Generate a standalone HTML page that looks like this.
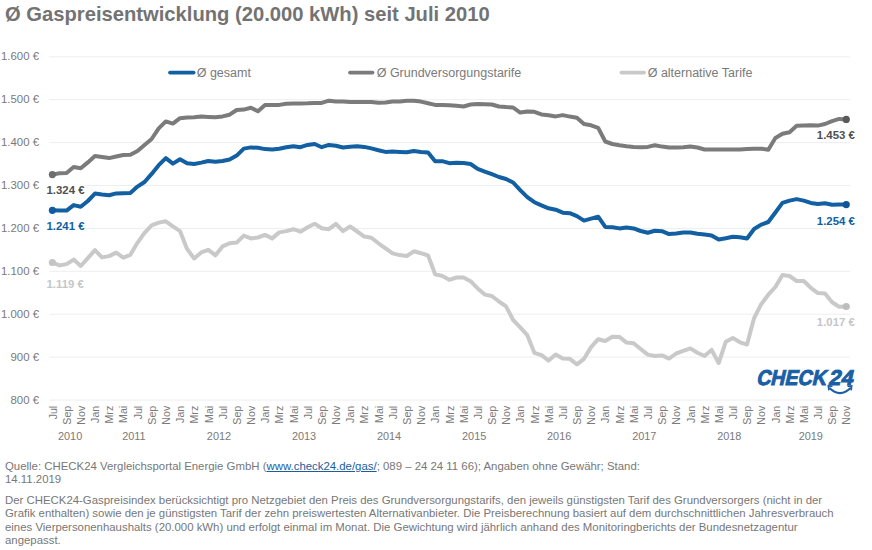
<!DOCTYPE html>
<html><head><meta charset="utf-8"><style>
html,body{margin:0;padding:0;background:#fff;width:872px;height:550px;overflow:hidden}
svg{position:absolute;left:0;top:0}
text{font-family:"Liberation Sans", sans-serif}
.foot{position:absolute;left:5px;font-family:"Liberation Sans", sans-serif;color:#777;font-size:11.4px;line-height:13px;white-space:nowrap}
.foot a{color:#1a5ea0;text-decoration:underline}
</style></head><body>
<svg width="872" height="550" viewBox="0 0 872 550">
<line x1="49.5" y1="56.80" x2="850.0" y2="56.80" stroke="#eeeeee" stroke-width="1"/>
<text x="39" y="60.40" text-anchor="end" font-size="11.4" fill="#7a7a7a">1.600 €</text>
<line x1="49.5" y1="99.70" x2="850.0" y2="99.70" stroke="#eeeeee" stroke-width="1"/>
<text x="39" y="103.30" text-anchor="end" font-size="11.4" fill="#7a7a7a">1.500 €</text>
<line x1="49.5" y1="142.60" x2="850.0" y2="142.60" stroke="#eeeeee" stroke-width="1"/>
<text x="39" y="146.20" text-anchor="end" font-size="11.4" fill="#7a7a7a">1.400 €</text>
<line x1="49.5" y1="185.50" x2="850.0" y2="185.50" stroke="#eeeeee" stroke-width="1"/>
<text x="39" y="189.10" text-anchor="end" font-size="11.4" fill="#7a7a7a">1.300 €</text>
<line x1="49.5" y1="228.40" x2="850.0" y2="228.40" stroke="#eeeeee" stroke-width="1"/>
<text x="39" y="232.00" text-anchor="end" font-size="11.4" fill="#7a7a7a">1.200 €</text>
<line x1="49.5" y1="271.30" x2="850.0" y2="271.30" stroke="#eeeeee" stroke-width="1"/>
<text x="39" y="274.90" text-anchor="end" font-size="11.4" fill="#7a7a7a">1.100 €</text>
<line x1="49.5" y1="314.20" x2="850.0" y2="314.20" stroke="#eeeeee" stroke-width="1"/>
<text x="39" y="317.80" text-anchor="end" font-size="11.4" fill="#7a7a7a">1.000 €</text>
<line x1="49.5" y1="357.10" x2="850.0" y2="357.10" stroke="#eeeeee" stroke-width="1"/>
<text x="39" y="360.70" text-anchor="end" font-size="11.4" fill="#7a7a7a">900 €</text>
<line x1="49.5" y1="400.00" x2="850.0" y2="400.00" stroke="#eeeeee" stroke-width="1"/>
<text x="39" y="403.60" text-anchor="end" font-size="11.4" fill="#7a7a7a">800 €</text>
<text transform="translate(56.60,405.8) rotate(-90)" text-anchor="end" font-size="10.6" fill="#7a7a7a">Jul</text>
<text transform="translate(70.78,405.8) rotate(-90)" text-anchor="end" font-size="10.6" fill="#7a7a7a">Sep</text>
<text transform="translate(84.95,405.8) rotate(-90)" text-anchor="end" font-size="10.6" fill="#7a7a7a">Nov</text>
<text transform="translate(99.13,405.8) rotate(-90)" text-anchor="end" font-size="10.6" fill="#7a7a7a">Jan</text>
<text transform="translate(113.30,405.8) rotate(-90)" text-anchor="end" font-size="10.6" fill="#7a7a7a">Mrz</text>
<text transform="translate(127.48,405.8) rotate(-90)" text-anchor="end" font-size="10.6" fill="#7a7a7a">Mai</text>
<text transform="translate(141.66,405.8) rotate(-90)" text-anchor="end" font-size="10.6" fill="#7a7a7a">Jul</text>
<text transform="translate(155.83,405.8) rotate(-90)" text-anchor="end" font-size="10.6" fill="#7a7a7a">Sep</text>
<text transform="translate(170.01,405.8) rotate(-90)" text-anchor="end" font-size="10.6" fill="#7a7a7a">Nov</text>
<text transform="translate(184.18,405.8) rotate(-90)" text-anchor="end" font-size="10.6" fill="#7a7a7a">Jan</text>
<text transform="translate(198.36,405.8) rotate(-90)" text-anchor="end" font-size="10.6" fill="#7a7a7a">Mrz</text>
<text transform="translate(212.54,405.8) rotate(-90)" text-anchor="end" font-size="10.6" fill="#7a7a7a">Mai</text>
<text transform="translate(226.71,405.8) rotate(-90)" text-anchor="end" font-size="10.6" fill="#7a7a7a">Jul</text>
<text transform="translate(240.89,405.8) rotate(-90)" text-anchor="end" font-size="10.6" fill="#7a7a7a">Sep</text>
<text transform="translate(255.06,405.8) rotate(-90)" text-anchor="end" font-size="10.6" fill="#7a7a7a">Nov</text>
<text transform="translate(269.24,405.8) rotate(-90)" text-anchor="end" font-size="10.6" fill="#7a7a7a">Jan</text>
<text transform="translate(283.42,405.8) rotate(-90)" text-anchor="end" font-size="10.6" fill="#7a7a7a">Mrz</text>
<text transform="translate(297.59,405.8) rotate(-90)" text-anchor="end" font-size="10.6" fill="#7a7a7a">Mai</text>
<text transform="translate(311.77,405.8) rotate(-90)" text-anchor="end" font-size="10.6" fill="#7a7a7a">Jul</text>
<text transform="translate(325.94,405.8) rotate(-90)" text-anchor="end" font-size="10.6" fill="#7a7a7a">Sep</text>
<text transform="translate(340.12,405.8) rotate(-90)" text-anchor="end" font-size="10.6" fill="#7a7a7a">Nov</text>
<text transform="translate(354.30,405.8) rotate(-90)" text-anchor="end" font-size="10.6" fill="#7a7a7a">Jan</text>
<text transform="translate(368.47,405.8) rotate(-90)" text-anchor="end" font-size="10.6" fill="#7a7a7a">Mrz</text>
<text transform="translate(382.65,405.8) rotate(-90)" text-anchor="end" font-size="10.6" fill="#7a7a7a">Mai</text>
<text transform="translate(396.82,405.8) rotate(-90)" text-anchor="end" font-size="10.6" fill="#7a7a7a">Jul</text>
<text transform="translate(411.00,405.8) rotate(-90)" text-anchor="end" font-size="10.6" fill="#7a7a7a">Sep</text>
<text transform="translate(425.18,405.8) rotate(-90)" text-anchor="end" font-size="10.6" fill="#7a7a7a">Nov</text>
<text transform="translate(439.35,405.8) rotate(-90)" text-anchor="end" font-size="10.6" fill="#7a7a7a">Jan</text>
<text transform="translate(453.53,405.8) rotate(-90)" text-anchor="end" font-size="10.6" fill="#7a7a7a">Mrz</text>
<text transform="translate(467.70,405.8) rotate(-90)" text-anchor="end" font-size="10.6" fill="#7a7a7a">Mai</text>
<text transform="translate(481.88,405.8) rotate(-90)" text-anchor="end" font-size="10.6" fill="#7a7a7a">Jul</text>
<text transform="translate(496.06,405.8) rotate(-90)" text-anchor="end" font-size="10.6" fill="#7a7a7a">Sep</text>
<text transform="translate(510.23,405.8) rotate(-90)" text-anchor="end" font-size="10.6" fill="#7a7a7a">Nov</text>
<text transform="translate(524.41,405.8) rotate(-90)" text-anchor="end" font-size="10.6" fill="#7a7a7a">Jan</text>
<text transform="translate(538.58,405.8) rotate(-90)" text-anchor="end" font-size="10.6" fill="#7a7a7a">Mrz</text>
<text transform="translate(552.76,405.8) rotate(-90)" text-anchor="end" font-size="10.6" fill="#7a7a7a">Mai</text>
<text transform="translate(566.94,405.8) rotate(-90)" text-anchor="end" font-size="10.6" fill="#7a7a7a">Jul</text>
<text transform="translate(581.11,405.8) rotate(-90)" text-anchor="end" font-size="10.6" fill="#7a7a7a">Sep</text>
<text transform="translate(595.29,405.8) rotate(-90)" text-anchor="end" font-size="10.6" fill="#7a7a7a">Nov</text>
<text transform="translate(609.46,405.8) rotate(-90)" text-anchor="end" font-size="10.6" fill="#7a7a7a">Jan</text>
<text transform="translate(623.64,405.8) rotate(-90)" text-anchor="end" font-size="10.6" fill="#7a7a7a">Mrz</text>
<text transform="translate(637.82,405.8) rotate(-90)" text-anchor="end" font-size="10.6" fill="#7a7a7a">Mai</text>
<text transform="translate(651.99,405.8) rotate(-90)" text-anchor="end" font-size="10.6" fill="#7a7a7a">Jul</text>
<text transform="translate(666.17,405.8) rotate(-90)" text-anchor="end" font-size="10.6" fill="#7a7a7a">Sep</text>
<text transform="translate(680.34,405.8) rotate(-90)" text-anchor="end" font-size="10.6" fill="#7a7a7a">Nov</text>
<text transform="translate(694.52,405.8) rotate(-90)" text-anchor="end" font-size="10.6" fill="#7a7a7a">Jan</text>
<text transform="translate(708.70,405.8) rotate(-90)" text-anchor="end" font-size="10.6" fill="#7a7a7a">Mrz</text>
<text transform="translate(722.87,405.8) rotate(-90)" text-anchor="end" font-size="10.6" fill="#7a7a7a">Mai</text>
<text transform="translate(737.05,405.8) rotate(-90)" text-anchor="end" font-size="10.6" fill="#7a7a7a">Jul</text>
<text transform="translate(751.22,405.8) rotate(-90)" text-anchor="end" font-size="10.6" fill="#7a7a7a">Sep</text>
<text transform="translate(765.40,405.8) rotate(-90)" text-anchor="end" font-size="10.6" fill="#7a7a7a">Nov</text>
<text transform="translate(779.58,405.8) rotate(-90)" text-anchor="end" font-size="10.6" fill="#7a7a7a">Jan</text>
<text transform="translate(793.75,405.8) rotate(-90)" text-anchor="end" font-size="10.6" fill="#7a7a7a">Mrz</text>
<text transform="translate(807.93,405.8) rotate(-90)" text-anchor="end" font-size="10.6" fill="#7a7a7a">Mai</text>
<text transform="translate(822.10,405.8) rotate(-90)" text-anchor="end" font-size="10.6" fill="#7a7a7a">Jul</text>
<text transform="translate(836.28,405.8) rotate(-90)" text-anchor="end" font-size="10.6" fill="#7a7a7a">Sep</text>
<text transform="translate(850.46,405.8) rotate(-90)" text-anchor="end" font-size="10.6" fill="#7a7a7a">Nov</text>
<text x="70.12" y="440.2" text-anchor="middle" font-size="10.9" fill="#7a7a7a">2010</text>
<text x="133.91" y="440.2" text-anchor="middle" font-size="10.9" fill="#7a7a7a">2011</text>
<text x="218.97" y="440.2" text-anchor="middle" font-size="10.9" fill="#7a7a7a">2012</text>
<text x="304.02" y="440.2" text-anchor="middle" font-size="10.9" fill="#7a7a7a">2013</text>
<text x="389.08" y="440.2" text-anchor="middle" font-size="10.9" fill="#7a7a7a">2014</text>
<text x="474.14" y="440.2" text-anchor="middle" font-size="10.9" fill="#7a7a7a">2015</text>
<text x="559.19" y="440.2" text-anchor="middle" font-size="10.9" fill="#7a7a7a">2016</text>
<text x="644.25" y="440.2" text-anchor="middle" font-size="10.9" fill="#7a7a7a">2017</text>
<text x="729.30" y="440.2" text-anchor="middle" font-size="10.9" fill="#7a7a7a">2018</text>
<text x="810.82" y="440.2" text-anchor="middle" font-size="10.9" fill="#7a7a7a">2019</text>
<path d="M52.40,262.50 L59.49,265.40 L66.58,264.10 L73.66,259.60 L80.75,266.00 L87.84,258.10 L94.93,250.10 L102.02,257.40 L109.10,256.10 L116.19,252.60 L123.28,257.70 L130.37,254.80 L137.46,242.80 L144.54,232.90 L151.63,225.40 L158.72,222.60 L165.81,221.30 L172.90,226.40 L179.98,231.10 L187.07,248.90 L194.16,258.50 L201.25,252.40 L208.34,249.80 L215.42,255.30 L222.51,246.40 L229.60,243.20 L236.69,242.60 L243.78,235.60 L250.86,238.40 L257.95,237.50 L265.04,234.90 L272.13,238.40 L279.22,232.40 L286.30,231.10 L293.39,229.20 L300.48,231.70 L307.57,227.30 L314.66,223.80 L321.74,228.20 L328.83,229.20 L335.92,223.80 L343.01,231.10 L350.10,226.50 L357.18,231.50 L364.27,236.60 L371.36,237.70 L378.45,243.30 L385.54,248.40 L392.62,253.40 L399.71,255.10 L406.80,256.00 L413.89,251.30 L420.98,253.20 L428.06,255.50 L435.15,274.20 L442.24,275.90 L449.33,279.80 L456.42,277.50 L463.50,277.50 L470.59,281.20 L477.68,288.40 L484.77,294.60 L491.86,296.00 L498.94,301.50 L506.03,306.40 L513.12,320.00 L520.21,327.40 L527.30,335.20 L534.38,352.80 L541.47,355.20 L548.56,360.60 L555.65,354.50 L562.74,358.60 L569.82,358.80 L576.91,364.30 L584.00,358.80 L591.09,347.10 L598.18,339.20 L605.26,341.00 L612.35,336.70 L619.44,336.90 L626.53,342.60 L633.62,343.30 L640.70,349.00 L647.79,354.60 L654.88,356.00 L661.97,355.40 L669.06,358.60 L676.14,353.50 L683.23,350.90 L690.32,348.40 L697.41,352.80 L704.50,356.00 L711.58,349.90 L718.67,363.00 L725.76,341.80 L732.85,337.90 L739.94,342.30 L747.02,344.50 L754.11,318.10 L761.20,304.20 L768.29,294.70 L775.38,287.00 L782.46,275.10 L789.55,276.00 L796.64,281.00 L803.73,281.00 L810.82,287.80 L817.90,293.10 L824.99,293.60 L832.08,302.20 L839.17,306.70 L846.26,306.50" fill="none" stroke="#c9c9c9" stroke-width="4" stroke-linejoin="round" stroke-linecap="round"/>
<path d="M52.40,174.60 L59.49,173.30 L66.58,173.00 L73.66,167.00 L80.75,168.30 L87.84,162.40 L94.93,156.10 L102.02,157.10 L109.10,158.10 L116.19,156.50 L123.28,155.00 L130.37,154.80 L137.46,151.00 L144.54,145.00 L151.63,139.00 L158.72,128.40 L165.81,121.40 L172.90,123.60 L179.98,118.20 L187.07,117.40 L194.16,117.20 L201.25,116.60 L208.34,116.90 L215.42,117.20 L222.51,116.40 L229.60,114.70 L236.69,110.00 L243.78,109.60 L250.86,107.70 L257.95,111.30 L265.04,104.90 L272.13,104.90 L279.22,104.90 L286.30,103.70 L293.39,103.40 L300.48,103.40 L307.57,103.30 L314.66,102.90 L321.74,102.90 L328.83,100.70 L335.92,101.40 L343.01,101.40 L350.10,101.90 L357.18,102.00 L364.27,102.00 L371.36,102.00 L378.45,102.80 L385.54,102.50 L392.62,101.60 L399.71,101.60 L406.80,100.70 L413.89,100.70 L420.98,101.60 L428.06,103.30 L435.15,104.90 L442.24,104.90 L449.33,105.30 L456.42,105.70 L463.50,106.50 L470.59,104.50 L477.68,103.90 L484.77,104.20 L491.86,104.50 L498.94,106.50 L506.03,107.10 L513.12,107.50 L520.21,112.60 L527.30,111.50 L534.38,111.80 L541.47,114.40 L548.56,115.30 L555.65,116.40 L562.74,115.10 L569.82,116.60 L576.91,117.70 L584.00,124.00 L591.09,125.30 L598.18,127.80 L605.26,141.50 L612.35,144.00 L619.44,145.30 L626.53,146.20 L633.62,146.90 L640.70,147.20 L647.79,146.90 L654.88,145.30 L661.97,146.60 L669.06,147.50 L676.14,147.50 L683.23,147.20 L690.32,146.60 L697.41,147.50 L704.50,149.50 L711.58,149.50 L718.67,149.50 L725.76,149.50 L732.85,149.50 L739.94,149.50 L747.02,149.10 L754.11,148.70 L761.20,148.70 L768.29,149.70 L775.38,138.00 L782.46,133.80 L789.55,132.20 L796.64,125.80 L803.73,125.60 L810.82,125.30 L817.90,125.60 L824.99,124.00 L832.08,121.10 L839.17,118.90 L846.26,119.40" fill="none" stroke="#7b7b7b" stroke-width="4" stroke-linejoin="round" stroke-linecap="round"/>
<path d="M52.40,210.30 L59.49,210.60 L66.58,210.60 L73.66,205.10 L80.75,206.70 L87.84,201.00 L94.93,193.60 L102.02,194.60 L109.10,195.30 L116.19,193.40 L123.28,193.20 L130.37,193.00 L137.46,186.60 L144.54,182.00 L151.63,173.90 L158.72,165.20 L165.81,158.20 L172.90,163.60 L179.98,159.20 L187.07,163.20 L194.16,164.00 L201.25,162.60 L208.34,161.00 L215.42,161.80 L222.51,161.00 L229.60,159.50 L236.69,155.60 L243.78,148.60 L250.86,147.40 L257.95,147.80 L265.04,149.10 L272.13,149.50 L279.22,148.70 L286.30,147.20 L293.39,146.20 L300.48,147.20 L307.57,144.90 L314.66,144.00 L321.74,147.20 L328.83,144.90 L335.92,145.70 L343.01,147.50 L350.10,146.80 L357.18,146.20 L364.27,146.90 L371.36,148.40 L378.45,150.20 L385.54,151.90 L392.62,151.60 L399.71,151.90 L406.80,152.30 L413.89,151.00 L420.98,152.00 L428.06,152.50 L435.15,161.20 L442.24,161.20 L449.33,163.20 L456.42,162.70 L463.50,163.00 L470.59,164.00 L477.68,168.80 L484.77,171.60 L491.86,174.20 L498.94,177.00 L506.03,179.00 L513.12,182.50 L520.21,190.10 L527.30,197.10 L534.38,202.20 L541.47,205.40 L548.56,208.30 L555.65,209.70 L562.74,212.70 L569.82,213.20 L576.91,216.10 L584.00,220.60 L591.09,218.60 L598.18,216.70 L605.26,226.90 L612.35,227.20 L619.44,228.40 L626.53,227.60 L633.62,228.40 L640.70,231.00 L647.79,232.70 L654.88,230.80 L661.97,231.20 L669.06,234.10 L676.14,233.40 L683.23,232.50 L690.32,232.50 L697.41,233.70 L704.50,234.60 L711.58,235.40 L718.67,239.50 L725.76,238.20 L732.85,236.70 L739.94,237.20 L747.02,238.50 L754.11,229.00 L761.20,224.60 L768.29,222.00 L775.38,212.50 L782.46,202.90 L789.55,200.60 L796.64,199.10 L803.73,200.60 L810.82,202.90 L817.90,203.90 L824.99,203.20 L832.08,204.80 L839.17,204.40 L846.26,204.60" fill="none" stroke="#125fa2" stroke-width="4" stroke-linejoin="round" stroke-linecap="round"/>
<circle cx="52.40" cy="262.50" r="3.6" fill="#c4c4c4"/>
<circle cx="846.26" cy="306.50" r="3.6" fill="#bdbdbd"/>
<circle cx="52.40" cy="174.60" r="3.6" fill="#6e6e6e"/>
<circle cx="846.26" cy="119.40" r="3.6" fill="#5a5a5a"/>
<circle cx="52.40" cy="210.30" r="3.6" fill="#115ca0"/>
<circle cx="846.26" cy="204.60" r="3.6" fill="#0f5699"/>
<rect x="45.5" y="184.2" width="40" height="12.5" fill="#fff"/>
<text x="46.5" y="194.2" font-size="11.4" font-weight="bold" fill="#505050">1.324 €</text>
<rect x="45.5" y="220.2" width="40" height="12.5" fill="#fff"/>
<text x="46.5" y="230.2" font-size="11.4" font-weight="bold" fill="#125fa2">1.241 €</text>
<rect x="45.5" y="277.6" width="40" height="12.5" fill="#fff"/>
<text x="46.5" y="287.6" font-size="11.4" font-weight="bold" fill="#c6c6c6">1.119 €</text>
<rect x="815.8" y="128.6" width="40" height="12.5" fill="#fff"/>
<text x="816.8" y="138.6" font-size="11.4" font-weight="bold" fill="#505050">1.453 €</text>
<rect x="815.8" y="214.5" width="40" height="12.5" fill="#fff"/>
<text x="816.8" y="224.5" font-size="11.4" font-weight="bold" fill="#125fa2">1.254 €</text>
<rect x="815.8" y="315.6" width="40" height="12.5" fill="#fff"/>
<text x="816.8" y="325.6" font-size="11.4" font-weight="bold" fill="#c6c6c6">1.017 €</text>
<line x1="170" y1="72.6" x2="193.6" y2="72.6" stroke="#125fa2" stroke-width="3.75" stroke-linecap="round"/>
<text x="196.7" y="77.2" font-size="12.5" fill="#7a7a7a">Ø gesamt</text>
<line x1="350" y1="72.6" x2="372.5" y2="72.6" stroke="#7b7b7b" stroke-width="3.75" stroke-linecap="round"/>
<text x="376.7" y="77.2" font-size="12.5" fill="#7a7a7a">Ø Grundversorgungstarife</text>
<line x1="621.4" y1="72.6" x2="644" y2="72.6" stroke="#c9c9c9" stroke-width="3.75" stroke-linecap="round"/>
<text x="647.7" y="77.2" font-size="12.5" fill="#7a7a7a">Ø alternative Tarife</text>
<text x="5" y="21.2" font-size="20.2" font-weight="bold" fill="#737373">Ø Gaspreisentwicklung (20.000 kWh) seit Juli 2010</text>
<g transform="translate(757.5,384.8) skewX(-13)"><text x="-1.5" y="0" font-size="21.3" font-weight="bold" fill="#1a5fa6" stroke="#1a5fa6" stroke-width="1" textLength="69.5" lengthAdjust="spacingAndGlyphs">CHECK</text><text x="70.5" y="0" font-size="21.3" font-weight="bold" fill="#1a5fa6" stroke="#1a5fa6" stroke-width="1" textLength="24.3" lengthAdjust="spacingAndGlyphs">24</text></g>
<path d="M829.2,387.8 Q840,398.5 850.8,387.8" fill="none" stroke="#1a5fa6" stroke-width="2"/>
<path d="M832.5,386.2 L828.3,385.9 L828.9,390.4 M847.5,386.2 L851.7,385.9 L851.1,390.4" fill="none" stroke="#1a5fa6" stroke-width="1.6"/>
</svg>
<div class="foot" style="top:460px">Quelle: CHECK24 Vergleichsportal Energie GmbH (<a>www.check24.de/gas/</a>; 089 – 24 24 11 66); Angaben ohne Gewähr; Stand:<br>14.11.2019</div>
<div class="foot" style="top:494px;line-height:13.4px">Der CHECK24-Gaspreisindex berücksichtigt pro Netzgebiet den Preis des Grundversorgungstarifs, den jeweils günstigsten Tarif des Grundversorgers (nicht in der<br>Grafik enthalten) sowie den je günstigsten Tarif der zehn preiswertesten Alternativanbieter. Die Preisberechnung basiert auf dem durchschnittlichen Jahresverbrauch<br>eines Vierpersonenhaushalts (20.000 kWh) und erfolgt einmal im Monat. Die Gewichtung wird jährlich anhand des Monitoringberichts der Bundesnetzagentur<br>angepasst.</div>
</body></html>
